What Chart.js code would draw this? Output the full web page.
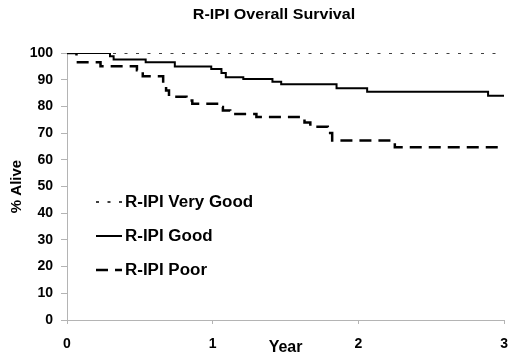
<!DOCTYPE html>
<html><head><meta charset="utf-8">
<script src="https://cdn.jsdelivr.net/npm/chart.js@4"></script>
<style>html,body{margin:0;padding:0;background:#fff}#wrap{width:520px;height:363px;position:relative}</style>
</head><body><div id="wrap"><canvas id="c"></canvas></div>
<script>
const chartTitle = 'R-IPI Overall Survival';
const xTitle = 'Year';
const yTitle = '% Alive';
const seriesNames = ['R-IPI Very Good', 'R-IPI Good', 'R-IPI Poor'];
const veryGoodYears = [0, 3];
const veryGoodAlive = [100, 100];
const goodYears = [0, 0.295, 0.32, 0.54, 0.74, 0.99, 1.06, 1.09, 1.21, 1.41, 1.47, 1.85, 2.06, 2.89, 3.0];
const goodAlive = [100, 98.8, 97.6, 96.5, 94.9, 94.0, 92.5, 90.9, 90.3, 89.2, 88.3, 86.8, 85.5, 84.0, 84.0];
const poorYears = [0, 0.065, 0.23, 0.48, 0.52, 0.66, 0.68, 0.70, 0.82, 0.86, 1.045, 1.07, 1.12, 1.30, 1.63, 1.67, 1.79, 1.82, 2.25, 3.0];
const poorAlive = [100, 96.5, 95.0, 93.5, 91.3, 88.5, 86.0, 83.6, 82.2, 81.0, 79.8, 78.5, 77.2, 76.0, 74.0, 72.4, 70.0, 67.2, 64.7, 64.7];
const xTickValues = [0, 1, 2, 3];
const yTickValues = [0, 10, 20, 30, 40, 50, 60, 70, 80, 90, 100];

function pts(xs, ys) { return xs.map((x, i) => ({ x: x, y: ys[i] })); }

const FONT = "'Liberation Sans', Arial, sans-serif";
const AXIS = '#b4b4b4';

function wideText(ctx, text, x, y, size, stretch, align) {
  ctx.save();
  ctx.font = 'bold ' + size + 'px ' + FONT;
  ctx.fillStyle = '#000';
  ctx.textBaseline = 'middle';
  ctx.textAlign = align;
  ctx.translate(x, y);
  ctx.scale(stretch, 1);
  ctx.fillText(text, 0, 0);
  ctx.restore();
}

const titleAndLegend = {
  id: 'titleAndLegend',
  afterDraw(chart) {
    const ctx = chart.ctx;
    wideText(ctx, chartTitle, 274, 15, 15, 1.07, 'center');
    const left = 96, top = 202, gap = 34, len = 26, textX = 125;
    chart.data.datasets.forEach((ds, i) => {
      const y = top + i * gap;
      ctx.save();
      ctx.strokeStyle = ds.borderColor;
      ctx.lineWidth = ds.borderWidth;
      ctx.setLineDash(ds.borderDash || []);
      ctx.beginPath(); ctx.moveTo(left, y); ctx.lineTo(left + len, y); ctx.stroke();
      ctx.restore();
      wideText(ctx, ds.label, textX, y + 1, 16, 1.06, 'left');
    });
  }
};

new Chart(document.getElementById('c'), {
  type: 'line',
  data: {
    datasets: [
      { label: seriesNames[0], data: pts(veryGoodYears, veryGoodAlive), borderColor: '#000', borderWidth: 1.5, borderDash: [3, 8.5], stepped: 'before', pointRadius: 0, fill: false },
      { label: seriesNames[1], data: pts(goodYears, goodAlive), borderColor: '#000', borderWidth: 2, borderDash: [], stepped: 'before', pointRadius: 0, fill: false },
      { label: seriesNames[2], data: pts(poorYears, poorAlive), borderColor: '#000', borderWidth: 2.5, borderDash: [12, 7], stepped: 'before', pointRadius: 0, fill: false }
    ]
  },
  options: {
    responsive: true,
    maintainAspectRatio: false,
    animation: false,
    layout: { padding: { left: 0, right: 15, top: 53, bottom: 0 } },
    plugins: {
      legend: { display: false },
      tooltip: { enabled: false },
      title: { display: false }
    },
    scales: {
      x: {
        type: 'linear', min: 0, max: 3,
        afterFit: s => { s.height = 43; },
        afterBuildTicks: s => { s.ticks = xTickValues.map(v => ({ value: v })); },
        ticks: { color: '#000', font: { family: FONT, size: 14, weight: 'bold' }, padding: 12, maxRotation: 0 },
        grid: { drawOnChartArea: false, tickLength: 4, color: AXIS },
        border: { color: AXIS },
        title: { display: true, text: xTitle, color: '#000', font: { family: FONT, size: 16, weight: 'bold' }, padding: { top: 0, bottom: 6 } }
      },
      y: {
        type: 'linear', min: 0, max: 100,
        afterFit: s => { s.width = 67; },
        afterBuildTicks: s => { s.ticks = yTickValues.map(v => ({ value: v })); },
        ticks: { color: '#000', font: { family: FONT, size: 14, weight: 'bold' }, padding: 8 },
        grid: { drawOnChartArea: false, tickLength: 6, color: AXIS },
        border: { color: AXIS },
        title: { display: true, text: yTitle, color: '#000', font: { family: FONT, size: 15, weight: 'bold' }, padding: { top: 8, bottom: 0 } }
      }
    }
  },
  plugins: [titleAndLegend]
});
</script></body></html>
